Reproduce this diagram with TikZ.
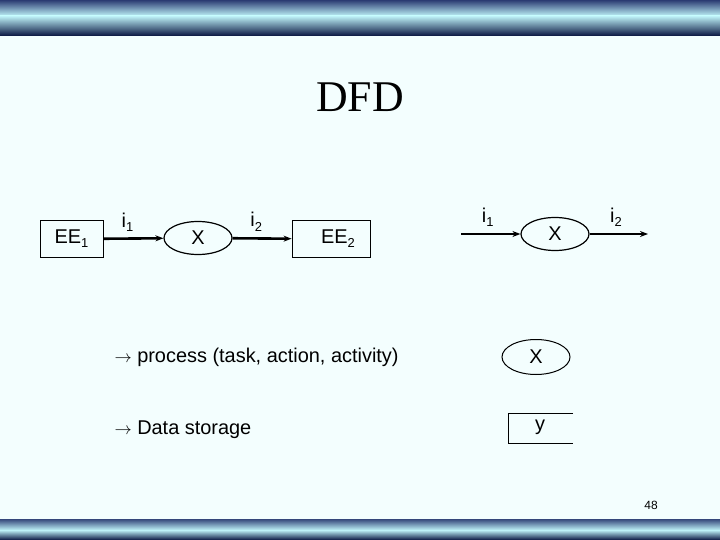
\documentclass[tikz,border=0pt]{standalone}
\usepackage{fontspec}
\setmainfont{Liberation Sans}
\newfontfamily\titlefont{Liberation Serif}
\usetikzlibrary{shapes.geometric,arrows.meta}

\definecolor{slidebg}{HTML}{F3FEFE}
\definecolor{bardark}{HTML}{081440}
\definecolor{bartop}{HTML}{34467A}
\definecolor{barlight}{HTML}{BEF2F8}

\newcommand{\lowsub}[1]{\raisebox{-0.4ex}{\fontsize{13}{13}\selectfont #1}}
\newcommand{\bullarrow}{{\fontsize{17}{17}\selectfont$\rightarrow$}}

\tikzset{
	entity/.style={draw, line width=0.9bp, minimum height=37bp, inner sep=0pt, font=\fontsize{20}{24}\selectfont},
	process/.style={draw, ellipse, line width=1.2bp, minimum width=68bp, minimum height=33bp, inner sep=0pt, font=\fontsize{20}{24}\selectfont},
	flow/.style={-{Stealth[length=8bp,width=6bp]}, line width=2.6bp},
	flowlabel/.style={font=\fontsize{20}{24}\selectfont, inner sep=1bp},
	item/.style={anchor=west, font=\fontsize{20}{24}\selectfont}
}

\begin{document}
\begin{tikzpicture}[x=1bp,y=-1bp]
	%BACKGROUND
	\useasboundingbox (0,0) rectangle (720,540);
	\fill[slidebg] (0,0) rectangle (720,540);
	
	%BARS
	\shade[top color=bartop, bottom color=barlight] (0,1) rectangle (720,16);
	\shade[top color=barlight, bottom color=bardark] (0,16) rectangle (720,36);
	\shade[top color=bartop, bottom color=barlight] (0,519) rectangle (720,530);
	\shade[top color=barlight, bottom color=bardark] (0,530) rectangle (720,540);
	
	%TITLE
	\node (title) at (360,97) {\titlefont\fontsize{44}{48}\selectfont DFD};
	
	%LEFT DIAGRAM
	\node[entity, minimum width=63bp] (ee1) at (71.5,239) {EE\lowsub{1}};
	\node[process] (p1) at (198,238) {X};
	\node[entity, minimum width=78bp] (ee2) at (331,239) {\hspace{14bp}EE\lowsub{2}};
	\draw[flow] (ee1) -- node[flowlabel, above=5bp, pos=0.4] (i1) {i\lowsub{1}} (p1);
	\draw[flow] (p1) -- node[flowlabel, above=5bp, pos=0.4] (i2) {i\lowsub{2}} (ee2);
	
	%RIGHT DIAGRAM
	\coordinate (in) at (461,234);
	\node[process] (p2) at (555,234) {X};
	\coordinate (out) at (648,234);
	\draw[flow] (in) -- node[flowlabel, above=5bp, pos=0.45] (j1) {i\lowsub{1}} (p2);
	\draw[flow] (p2) -- node[flowlabel, above=5bp, pos=0.45] (j2) {i\lowsub{2}} (out);
	
	%SYMBOLS
	\node[process, line width=1bp, minimum height=35bp] (p3) at (536,357) {X};
	\node[font=\fontsize{20}{24}\selectfont] (store) at (540,427) {y};
	\draw[line width=0.9bp] (573,413) -- (508,413) -- (508,443) -- (573,443);
	
	%LEGEND
	\node[item] (proc) at (111,357) {\bullarrow\ process (task, action, activity)};
	\node[item] (data) at (111,430) {\bullarrow\ Data storage};
	
	%PAGE NUMBER
	\node[font=\fontsize{12}{14}\selectfont] (page) at (651,505) {48};
\end{tikzpicture}
\end{document}
